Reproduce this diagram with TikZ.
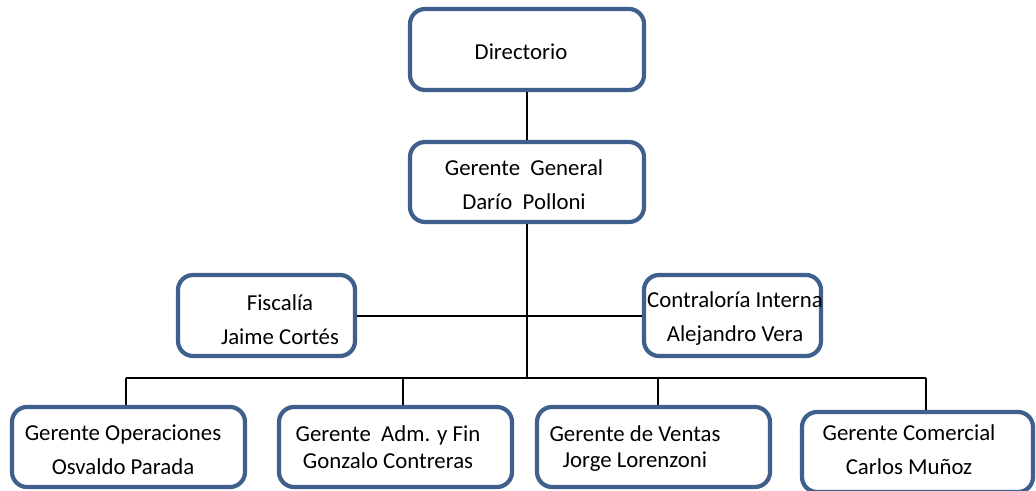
\documentclass[tikz,border=0pt]{standalone}
\usepackage{fontspec}
\setmainfont{Carlito}
\definecolor{boxblue}{HTML}{3F5F8D}
\begin{document}
\begin{tikzpicture}[x=0.5pt,y=-0.5pt,
  orgbox/.style={draw=boxblue, line width=2.1pt, rounded corners=7.5pt, fill=white, inner sep=0pt},
  orgtxt/.style={align=center, inner sep=0pt, font=\fontsize{11.4}{17}\selectfont},
  tighttxt/.style={align=center, inner sep=0pt, font=\fontsize{11.4}{13.2}\selectfont},
  conn/.style={draw=black, line width=1pt}]
\useasboundingbox (0,0) rectangle (1036,491);
% boxes
\node[orgbox, minimum width=117pt, minimum height=40.5pt] (dir) at (527,49.5) {};
\node[orgbox, minimum width=117pt, minimum height=40pt] (gg) at (527,182) {};
\node[orgbox, minimum width=88.5pt, minimum height=40.5pt] (fis) at (266.5,315.5) {};
\node[orgbox, minimum width=88.5pt, minimum height=40.5pt] (con) at (732.5,315.5) {};
\node[orgbox, minimum width=116.5pt, minimum height=40pt] (op) at (128.5,447) {};
\node[orgbox, minimum width=116.5pt, minimum height=40pt] (adm) at (395.5,447) {};
\node[orgbox, minimum width=116.5pt, minimum height=40pt] (ven) at (653.5,447) {};
\node[orgbox, minimum width=115.5pt, minimum height=40pt] (com) at (917.5,452) {};
% texts
\node[orgtxt] (dirt) at (521,52) {Directorio};
\node[orgtxt] (ggt) at (524,185) {Gerente\ \ General\\Darío\ \ Polloni};
\node[orgtxt] (fist) at (280,319.5) {Fiscalía\\Jaime Cortés};
\node[orgtxt] (cont) at (735,318.5) {Contraloría Interna\\Alejandro Vera};
\node[orgtxt] (opt) at (123,450) {Gerente Operaciones\\Osvaldo Parada};
\node[tighttxt] (admt) at (388,447) {Gerente\ \ Adm. y Fin\\Gonzalo Contreras};
\node[tighttxt] (vent) at (635,448.5) {Gerente de Ventas\\Jorge Lorenzoni};
\node[orgtxt] (comt) at (909,450) {Gerente Comercial\\Carlos Muñoz};
% connector coordinates
\coordinate (bus) at (527,378);
\coordinate (d1) at (126,378);
\coordinate (d2) at (403,378);
\coordinate (d3) at (658,378);
\coordinate (d4) at (926,378);
% connectors
\draw[conn] (dir.south) -- (gg.north);
\draw[conn] (gg.south) -- (bus);
\draw[conn] (fis.east) -- (con.west);
\draw[conn] (d1) -- (d4);
\draw[conn] (d1) -- (d1 |- op.north);
\draw[conn] (d2) -- (d2 |- adm.north);
\draw[conn] (d3) -- (d3 |- ven.north);
\draw[conn] (d4) -- (d4 |- com.north);
\end{tikzpicture}
\end{document}
